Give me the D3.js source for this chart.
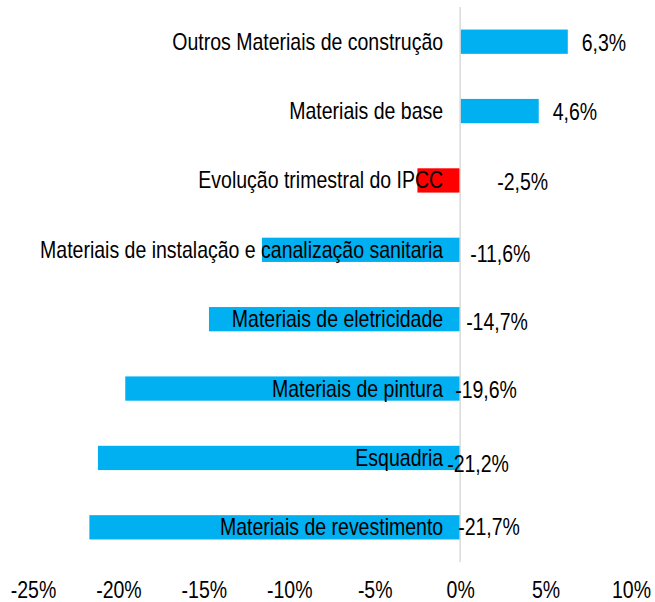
<!DOCTYPE html>
<html>
<head>
<meta charset="utf-8">
<script src="https://cdn.jsdelivr.net/npm/d3@7"></script>
<style>
  body { margin: 0; background: #fff; }
  text { font-family: "Liberation Sans", Arial, sans-serif; fill: #000; }
</style>
</head>
<body>
<svg width="655" height="602"></svg>
<script>
let svg = d3.select("svg")
let width = 655, height = 602

// data, top to bottom
let categories = [
  "Outros Materiais de construção",
  "Materiais de base",
  "Evolução trimestral do IPCC",
  "Materiais de instalação e canalização sanitaria",
  "Materiais de eletricidade",
  "Materiais de pintura",
  "Esquadria",
  "Materiais de revestimento"
]
let values = [0.063, 0.046, -0.025, -0.116, -0.147, -0.196, -0.212, -0.217]
let highlight = "Evolução trimestral do IPCC"
let tickValues = [-0.25, -0.20, -0.15, -0.10, -0.05, 0, 0.05, 0.10]

// nudges for the value labels (Excel had them moved around by hand)
let labelDx = [14, 14, 37, 10, 6, -5, -13, -2]
let labelDy = [1, 1, 2, 4, 3, 1, 6, 0]

let rows = categories.map((c, i) => ({name: c, value: values[i], i: i}))

let pt = d3.formatLocale({decimal: ",", thousands: ".", grouping: [3], currency: ["", "€"], minus: "-"})
let fmtTick = pt.format(".0%")
let fmtVal = pt.format(".1%")

let x = d3.scaleLinear()
  .domain([-0.25, 0.10])
  .range([33, 631])

let y = d3.scaleBand()
  .domain(categories)
  .range([7, 562])
  .paddingInner(0.65)
  .paddingOuter(0.325)

let fontSize = 23
let narrow = 0.848   // no Arial Narrow here, so squeeze Liberation Sans

// squeeze horizontally around the text's anchor x
let condense = sel => sel.each(function () {
  let ax = +this.getAttribute("x") || 0
  d3.select(this)
    .attr("transform", `translate(${ax},0) scale(${narrow},1) translate(${-ax},0)`)
})

// bars
svg.selectAll("rect.bar")
  .data(rows)
  .enter()
  .append("rect")
  .attr("class", "bar")
  .attr("x", d => x(Math.min(0, d.value)))
  .attr("width", d => Math.abs(x(d.value) - x(0)))
  .attr("y", d => y(d.name))
  .attr("height", y.bandwidth())
  .style("fill", d => d.name === highlight ? "#FF0000" : "#00B0F0")

// zero line
svg.append("line")
  .attr("x1", x(0)).attr("x2", x(0))
  .attr("y1", 7).attr("y2", 562)
  .style("stroke", "#d9d9d9")
  .style("stroke-width", 1.5)

// category labels
svg.selectAll("text.cat")
  .data(rows)
  .enter()
  .append("text")
  .attr("class", "cat")
  .attr("x", x(0) - 17)
  .attr("y", d => y(d.name) + y.bandwidth() / 2)
  .attr("dy", "0.35em")
  .attr("text-anchor", "end")
  .style("font-size", fontSize + "px")
  .text(d => d.name)
  .call(condense)

// value labels
svg.selectAll("text.val")
  .data(rows)
  .enter()
  .append("text")
  .attr("class", "val")
  .attr("x", d => x(Math.max(0, d.value)) + labelDx[d.i])
  .attr("y", d => y(d.name) + y.bandwidth() / 2 + labelDy[d.i])
  .attr("dy", "0.35em")
  .style("font-size", fontSize + "px")
  .text(d => fmtVal(d.value))
  .call(condense)

// x axis, labels only
let xAxisG = svg.append("g")
  .attr("class", "x-axis")
  .attr("transform", "translate(0,579)")
  .call(d3.axisBottom(x).tickValues(tickValues).tickFormat(fmtTick).tickSize(0))

xAxisG.select(".domain").remove()
xAxisG.attr("font-family", null)
xAxisG.selectAll("text")
  .style("font-size", fontSize + "px")
  .attr("fill", "#000")
  .call(condense)
</script>
</body>
</html>
